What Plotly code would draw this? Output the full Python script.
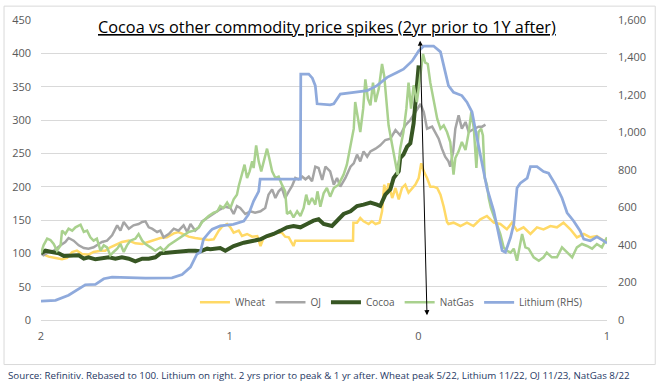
import plotly.graph_objects as go

# ---------------- data (weeks relative to each commodity's peak; rebased to 100) ----------------
x_tickvals = [-104, -52, 0, 52]
x_ticktext = ["2", "1", "0", "1"]

wheat_wk = [-104.0, -101.9, -100.0, -98.2, -96.8, -95.4, -94.1, -92.7, -90.9, -89.5,
            -87.6, -86.3, -84.9, -83.5, -81.7, -79.8, -78.0, -76.1, -74.3, -72.9,
            -71.1, -69.3, -67.4, -66.1, -64.7, -63.3, -61.5, -59.6, -57.8, -56.4,
            -55.0, -54.1, -52.7, -51.8, -50.9, -49.5, -48.6, -47.2, -45.8, -44.4,
            -43.5, -42.6, -40.8, -38.9, -37.6, -36.7, -35.7, -34.4, -33.9, -18.0,
            -17.9, -16.9, -16.0, -15.1, -13.7, -12.8, -11.8, -10.7, -10.0, -9.4,
            -8.8, -8.2, -7.2, -6.3, -5.4, -4.5, -3.6, -2.7, -1.7, -0.8,
            0.1, 0.8, 1.5, 2.4, 3.3, 4.2, 5.2, 6.1, 7.0, 7.9,
            8.3, 9.7, 11.6, 13.4, 15.2, 17.1, 18.9, 20.8, 22.6, 24.4,
            25.8, 27.2, 29.0, 30.9, 32.7, 34.5, 36.4, 38.2, 40.0, 41.9,
            43.7, 45.6, 47.4, 49.2, 51.1, 52.0]
wheat_val = [100, 95, 93, 91, 93, 102, 104, 99, 98, 102,
             104, 104, 109, 112, 117, 119, 115, 114, 117, 120,
             123, 124, 130, 132, 128, 125, 123, 122, 120, 121,
             134, 140, 144, 139, 131, 134, 126, 129, 125, 126,
             111, 124, 126, 131, 131, 125, 124, 111, 119, 119,
             146, 146, 153, 148, 144, 148, 144, 146, 163, 203,
             188, 205, 183, 198, 181, 198, 203, 191, 198, 203,
             213, 235, 223, 213, 200, 200, 198, 188, 170, 147,
             144, 146, 141, 146, 141, 151, 156, 146, 144, 136,
             146, 134, 139, 129, 139, 136, 141, 139, 146, 136,
             124, 129, 124, 126, 119, 119]

oj_wk = [-104.0, -103.3, -101.9, -100.5, -98.6, -97.3, -96.4, -95.0, -93.6, -92.2,
         -90.9, -89.5, -88.1, -87.2, -85.8, -84.4, -83.0, -82.1, -81.2, -79.8,
         -78.5, -77.1, -76.1, -75.2, -74.3, -73.4, -72.0, -71.1, -70.2, -68.8,
         -67.4, -66.1, -64.7, -63.7, -62.8, -61.5, -60.5, -59.6, -58.2, -56.8,
         -55.4, -54.6, -53.2, -51.8, -50.9, -50.0, -49.1, -47.7, -46.3, -45.0,
         -43.5, -42.2, -41.3, -40.3, -39.4, -38.5, -37.6, -36.7, -35.7, -34.8,
         -33.9, -33.0, -32.0, -31.1, -30.2, -29.3, -28.4, -27.5, -26.5, -25.6,
         -24.3, -23.3, -22.4, -21.5, -20.1, -18.7, -17.8, -16.9, -16.0, -15.1,
         -14.1, -13.2, -11.8, -10.5, -9.1, -7.7, -6.3, -5.0, -3.6, -2.2,
         -0.8, 0.6, 1.5, 2.4, 3.8, 4.7, 5.6, 6.5, 7.4, 8.3,
         8.8, 9.6, 10.2, 11.1, 12.0, 13.0, 13.9, 14.8, 15.7, 16.6,
         17.6, 18.5]
oj_val = [100, 97, 102, 104, 112, 117, 123, 119, 112, 108,
          107, 109, 114, 117, 119, 127, 142, 134, 147, 137,
          142, 144, 147, 148, 139, 137, 132, 134, 124, 129,
          137, 134, 142, 132, 144, 134, 139, 148, 153, 158,
          164, 166, 170, 168, 159, 171, 168, 159, 163, 161,
          163, 168, 188, 196, 183, 193, 198, 183, 193, 201,
          213, 211, 215, 211, 215, 208, 230, 228, 210, 230,
          223, 203, 213, 200, 213, 230, 235, 248, 238, 253,
          245, 253, 257, 262, 270, 272, 285, 277, 292, 300,
          312, 324, 312, 287, 290, 282, 272, 257, 245, 238,
          230, 253, 287, 307, 287, 297, 282, 285, 287, 290,
          290, 293]

cocoa_wk = [-104.0, -102.8, -101.0, -99.1, -97.7, -95.4, -93.6, -92.2, -90.9, -89.0,
            -87.2, -85.3, -83.5, -81.7, -79.8, -78.0, -76.1, -74.3, -72.5, -71.1,
            -69.3, -67.0, -65.1, -63.3, -61.5, -60.1, -58.2, -57.3, -54.6, -53.2,
            -50.9, -48.1, -45.4, -43.5, -41.7, -39.9, -38.0, -36.2, -34.4, -32.5,
            -30.7, -28.9, -27.5, -26.1, -23.8, -22.4, -20.6, -18.7, -16.9, -15.1,
            -13.2, -11.4, -10.5, -9.1, -7.7, -6.8, -5.4, -5.0, -4.1, -3.1,
            -2.2, -1.3, -0.7, -0.3, 0.1]
cocoa_val = [100, 104, 102, 100, 96, 96, 97, 92, 94, 91,
             92, 94, 92, 94, 92, 88, 92, 92, 94, 100,
             101, 102, 104, 104, 104, 103, 107, 106, 108, 104,
             111, 116, 119, 121, 126, 129, 134, 139, 141, 139,
             144, 149, 151, 144, 141, 149, 159, 163, 171, 173,
             176, 173, 171, 188, 196, 213, 223, 243, 248, 260,
             265, 295, 330, 365, 382]

natgas_wk = [-104.0, -103.3, -102.3, -101.4, -100.5, -99.6, -98.6, -98.2, -97.3, -96.4,
             -95.4, -94.5, -93.1, -92.2, -91.3, -90.4, -89.5, -88.6, -87.6, -86.7,
             -85.8, -84.9, -84.0, -83.0, -82.1, -81.2, -80.3, -79.4, -78.0, -77.1,
             -76.1, -75.2, -73.8, -72.5, -71.1, -70.2, -68.8, -67.4, -66.1, -64.7,
             -63.3, -61.9, -60.5, -59.6, -58.7, -57.8, -56.4, -55.4, -54.6, -53.7,
             -52.7, -51.8, -50.9, -50.0, -49.5, -48.6, -47.9, -47.2, -46.5, -45.8,
             -45.4, -44.7, -44.0, -43.3, -42.6, -41.7, -41.1, -40.3, -39.4, -38.5,
             -37.6, -36.7, -36.2, -35.3, -34.4, -33.4, -32.5, -31.6, -30.9, -30.2,
             -29.3, -28.4, -27.8, -27.0, -26.1, -25.2, -24.3, -23.3, -22.0, -20.6,
             -19.7, -18.7, -17.8, -17.4, -16.6, -16.0, -15.2, -14.6, -13.9, -13.2,
             -12.5, -11.8, -10.9, -10.0, -9.4, -8.8, -8.2, -7.2, -6.3, -5.7,
             -5.0, -4.1, -3.3, -2.7, -2.0, -1.3, -0.4, 0.6, 1.3, 1.9,
             2.6, 3.3, 4.2, 5.2, 6.1, 7.0, 7.9, 8.8, 9.7, 10.2,
             11.1, 12.0, 13.0, 13.9, 14.6, 15.3, 16.0, 16.6, 17.3, 17.8,
             18.3, 18.9, 19.4, 20.0, 20.8, 21.7, 22.6, 23.5, 24.4, 25.4,
             26.3, 27.2, 28.1, 28.6, 29.5, 30.4, 31.8, 33.2, 34.5, 35.4,
             36.8, 38.2, 39.6, 41.0, 42.4, 43.7, 45.1, 46.5, 47.9, 49.2,
             50.6, 52.0]
natgas_val = [100, 112, 122, 120, 114, 104, 112, 134, 129, 137,
              134, 139, 143, 132, 134, 124, 119, 122, 104, 112,
              109, 97, 102, 107, 114, 102, 112, 119, 122, 129,
              119, 114, 109, 104, 109, 104, 112, 117, 122, 127,
              132, 134, 139, 147, 152, 156, 161, 163, 171, 168,
              176, 168, 181, 188, 201, 218, 233, 213, 223, 238,
              228, 262, 238, 223, 238, 257, 243, 223, 213, 215,
              203, 193, 159, 163, 154, 163, 156, 168, 188, 173,
              183, 173, 193, 170, 190, 198, 185, 198, 203, 218,
              233, 262, 287, 327, 297, 282, 317, 361, 332, 322,
              356, 327, 347, 384, 366, 327, 292, 262, 238, 218,
              257, 282, 317, 356, 317, 352, 327, 366, 399, 386,
              384, 356, 332, 302, 287, 292, 282, 267, 218, 243,
              253, 267, 255, 282, 312, 287, 228, 282, 287, 277,
              213, 203, 183, 168, 156, 141, 129, 109, 104, 101,
              107, 89, 119, 129, 109, 107, 94, 89, 94, 101,
              94, 94, 109, 101, 94, 109, 114, 111, 107, 114,
              109, 124]

lithium_wk = [-104.0, -100.0, -96.4, -93.6, -91.8, -89.0, -86.7, -84.4, -79.9, -75.2,
              -67.9, -65.1, -62.8, -61.0, -60.1, -59.2, -57.3, -56.8, -54.6, -51.0,
              -48.1, -46.8, -45.4, -44.0, -43.6, -32.5, -32.4, -30.2, -29.2, -28.4,
              -27.9, -24.3, -23.3, -21.5, -17.8, -14.1, -11.4, -8.6, -5.9, -4.1,
              -1.7, 0.1, 1.5, 4.2, 6.1, 7.0, 8.3, 9.7, 12.0, 13.4,
              14.8, 16.2, 17.6, 18.9, 20.8, 22.1, 23.1, 24.0, 25.4, 26.3,
              27.2, 28.1, 30.0, 30.9, 32.7, 34.5, 35.9, 37.8, 39.6, 41.0,
              42.8, 44.6, 45.6, 47.4, 49.2, 51.1, 52.0]
lithium_val = [100, 105, 132, 167, 188, 190, 220, 229, 225, 223,
               225, 243, 282, 352, 361, 431, 475, 484, 502, 510,
               528, 563, 634, 686, 751, 751, 1311, 1311, 1290, 1250,
               1153, 1148, 1153, 1205, 1214, 1223, 1250, 1294, 1320, 1338,
               1382, 1435, 1461, 1461, 1430, 1355, 1250, 1214, 1197, 1162,
               1109, 968, 827, 704, 581, 458, 370, 361, 440, 511,
               704, 730, 757, 818, 818, 792, 783, 722, 651, 572,
               528, 475, 431, 422, 444, 422, 410]

# peak marker arrow (data coordinates: weeks, left-axis value)
arrow_top = (0.5, 419)
arrow_bottom = (2.4, 5)

TITLE = "Cocoa vs other commodity price spikes (2yr prior to 1Y after)"
FOOTER = ("Source: Refinitiv. Rebased to 100. Lithium on right. 2 yrs prior to peak & 1 yr after. "
          "Wheat peak 5/22, Lithium 11/22, OJ 11/23, NatGas 8/22")

FONT = "Open Sans"
TICK_COLOR = "#595959"
GRID = "#D9D9D9"

series = [
    ("Wheat", wheat_wk, wheat_val, "#FFD966", 2.5, "y"),
    ("OJ", oj_wk, oj_val, "#A5A5A5", 2.5, "y"),
    ("Cocoa", cocoa_wk, cocoa_val, "#375623", 4, "y"),
    ("NatGas", natgas_wk, natgas_val, "#A9D18E", 2.5, "y"),
    ("Lithium (RHS)", lithium_wk, lithium_val, "#8FAADC", 2.75, "y2"),
]

fig = go.Figure()
for name, xs, ys, color, width, axis in series:
    fig.add_trace(go.Scatter(x=xs, y=ys, name=name, mode="lines", yaxis=axis,
                             line=dict(color=color, width=width), hoverinfo="skip"))

fig.update_layout(
    width=660, height=383,
    margin=dict(l=40, r=53, t=17, b=63),
    paper_bgcolor="white", plot_bgcolor="white",
    font=dict(family=FONT, size=11, color=TICK_COLOR),
    showlegend=True,
    legend=dict(orientation="h", x=0.272, y=0.059, xanchor="left", yanchor="middle",
                bgcolor="rgba(0,0,0,0)", font=dict(size=10, color=TICK_COLOR),
                itemwidth=30, traceorder="normal"),
    xaxis=dict(range=[-104, 52], tickvals=x_tickvals, ticktext=x_ticktext,
               showgrid=False, zeroline=False, showline=False, ticks="",
               ticklabelstandoff=8, tickfont=dict(size=11, color=TICK_COLOR)),
    yaxis=dict(range=[0, 450], dtick=50, showgrid=True, gridcolor=GRID, gridwidth=1,
               zeroline=True, zerolinecolor=GRID, zerolinewidth=1, showline=False, ticks="",
               ticklabelstandoff=9, tickfont=dict(size=11, color=TICK_COLOR)),
    yaxis2=dict(range=[0, 1600], tickvals=list(range(0, 1601, 200)), tickformat=",",
                overlaying="y", side="right", showgrid=False, zeroline=False, showline=False,
                ticks="", ticklabelstandoff=10, tickfont=dict(size=11, color=TICK_COLOR)),
)

# outer chart border
fig.add_shape(type="rect", xref="paper", yref="paper", x0=-0.0653, x1=1.0852, y0=-0.1485, y1=1.0462,
              line=dict(color=GRID, width=1), fillcolor="rgba(0,0,0,0)", layer="below")

# title
fig.add_annotation(text=TITLE, xref="paper", yref="paper", x=0.506, y=0.977,
                   xanchor="center", yanchor="middle", showarrow=False,
                   font=dict(family=FONT, size=16.3, color="black", lineposition="under"))

# footer
fig.add_annotation(text=FOOTER, xref="paper", yref="paper", x=-0.0617, y=-0.1848,
                   xanchor="left", yanchor="middle", showarrow=False,
                   font=dict(family=FONT, size=9.75, color="#1F3864"))

# double-headed arrow at the peak
fig.add_annotation(text="", x=arrow_top[0], y=arrow_top[1], ax=arrow_bottom[0], ay=arrow_bottom[1],
                   xref="x", yref="y", axref="x", ayref="y", showarrow=True,
                   arrowhead=2, startarrowhead=2, arrowside="end+start",
                   arrowwidth=1, arrowsize=1, startarrowsize=1, arrowcolor="black")

fig.write_html("out.html", config={"displayModeBar": False},
               post_script="document.body.style.margin='0';")
